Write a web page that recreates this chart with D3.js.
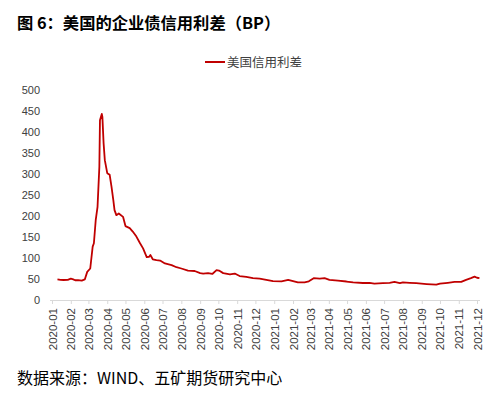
<!DOCTYPE html>
<html><head><meta charset="utf-8">
<script src="https://cdn.jsdelivr.net/npm/d3@7"></script>
<style>body{margin:0;background:#fff;}svg{display:block;}</style>
</head><body>
<script>
const titleText = "图 6：美国的企业债信用利差（BP）";
const legendLabel = "美国信用利差";
const sourceText = "数据来源：WIND、五矿期货研究中心";
const yTicks = [0,50,100,150,200,250,300,350,400,450,500];
const monthLabels = ["2020-01","2020-02","2020-03","2020-04","2020-05","2020-06","2020-07","2020-08","2020-09","2020-10","2020-11","2020-12",
  "2021-01","2021-02","2021-03","2021-04","2021-05","2021-06","2021-07","2021-08","2021-09","2021-10","2021-11","2021-12"];
const dates = ["2020-01-10","2020-01-15","2020-01-20","2020-01-27","2020-02-01","2020-02-05","2020-02-08","2020-02-13","2020-02-19","2020-02-24","2020-02-28",
  "2020-03-04","2020-03-08","2020-03-10","2020-03-13","2020-03-16","2020-03-19","2020-03-20","2020-03-23","2020-03-24","2020-03-26","2020-03-28",
  "2020-04-01","2020-04-05","2020-04-08","2020-04-11","2020-04-13","2020-04-16","2020-04-20","2020-04-27","2020-05-01","2020-05-08","2020-05-13",
  "2020-05-19","2020-05-25","2020-05-30","2020-06-05","2020-06-09","2020-06-11","2020-06-15","2020-06-21","2020-06-27","2020-07-05","2020-07-16",
  "2020-07-24","2020-08-01","2020-08-12","2020-08-23","2020-09-01","2020-09-06","2020-09-14","2020-09-21","2020-09-28","2020-10-02","2020-10-09",
  "2020-10-20","2020-10-28","2020-11-05","2020-11-16","2020-11-27","2020-12-08","2020-12-19","2020-12-30","2021-01-13","2021-01-24","2021-02-01",
  "2021-02-09","2021-02-20","2021-02-27","2021-03-07","2021-03-17","2021-03-25","2021-04-02","2021-04-16","2021-04-30","2021-05-11","2021-05-27",
  "2021-06-07","2021-06-15","2021-06-29","2021-07-10","2021-07-18","2021-07-27","2021-08-01","2021-08-12","2021-08-23","2021-09-09","2021-09-25",
  "2021-10-01","2021-10-14","2021-10-25","2021-11-05","2021-11-13","2021-11-21","2021-11-27","2021-12-01","2021-12-05"];
const spreads = [49,48,47.6,48,50.7,49,47,47.5,46,49,67,
  75,127,135,190,222,317,428,443,436,373,333,
  302,298,270,238,214,202,206,198,176,171,163,
  151,135,123,102,103,107,97,95,94,87,83,
  78,75,70,69,64,63,64,62,71,70,64,
  61,63,57,55,52,51,48,45,44.5,48,45,
  42,42,44.5,52,51,52,48,46,44,42,40.5,
  41,39,40,41,43,40,42,41,40,38,36.5,
  39,41,43,43,48,52,55.5,53,52];

const W = 499, H = 397;
const svg = d3.select("body").append("svg").attr("width", W).attr("height", H);

const parse = d3.utcParse("%Y-%m-%d");
const data = dates.map((d,i)=>({date: parse(d), v: spreads[i]}));
const monthDates = monthLabels.map(m => parse(m + "-01"));

const x = d3.scaleUtc().domain([parse("2020-01-01"), parse("2021-12-01")]).range([52, 477]);
const y = d3.scaleLinear().domain([0, 500]).range([300, 90]);

// title
svg.append("text").attr("x", 17).attr("y", 29)
  .attr("font-family", "'Noto Sans CJK SC'").attr("font-weight", "bold").attr("font-size", 16.3)
  .attr("fill", "#000").text(titleText);

// legend
svg.append("line").attr("x1", 205).attr("x2", 225).attr("y1", 62).attr("y2", 62)
  .attr("stroke", "#C00000").attr("stroke-width", 2);
svg.append("text").attr("x", 227).attr("y", 66.5)
  .attr("font-family", "'Noto Sans CJK SC'").attr("font-size", 12.5).attr("fill", "#404040").text(legendLabel);

// y axis labels
const yAxis = d3.axisLeft(y).tickValues(yTicks).tickSize(0).tickPadding(0);
const gy = svg.append("g").attr("transform", "translate(40,0)").call(yAxis);
gy.select(".domain").remove();
gy.selectAll("text").attr("font-family", "'Liberation Sans'").attr("font-size", 11).attr("fill", "#404040");

// x axis
const xAxis = d3.axisBottom(x).tickValues(monthDates).tickFormat((d,i)=>monthLabels[i]).tickSize(4).tickSizeOuter(0);
const gx = svg.append("g").attr("transform", "translate(0,300)").call(xAxis);
gx.select(".domain").attr("d", "M50,0.5H480").attr("stroke", "#d9d9d9");
gx.selectAll(".tick line").attr("stroke", "#d9d9d9");
gx.selectAll("text")
  .attr("font-family", "'Liberation Sans'").attr("font-size", 11.5).attr("fill", "#404040")
  .attr("transform", "rotate(-90)").attr("text-anchor", "end")
  .attr("x", -8).attr("y", 0).attr("dy", "0.35em");

// line
const line = d3.line().x(d=>x(d.date)).y(d=>y(d.v)).curve(d3.curveLinear);
svg.append("path").datum(data).attr("d", line)
  .attr("fill", "none").attr("stroke", "#C00000").attr("stroke-width", 1.8).attr("stroke-linejoin", "round");

// source
svg.append("text").attr("x", 17).attr("y", 384)
  .attr("font-family", "'Noto Sans CJK SC'").attr("font-size", 16).attr("fill", "#000").text(sourceText);
</script>
</body></html>
